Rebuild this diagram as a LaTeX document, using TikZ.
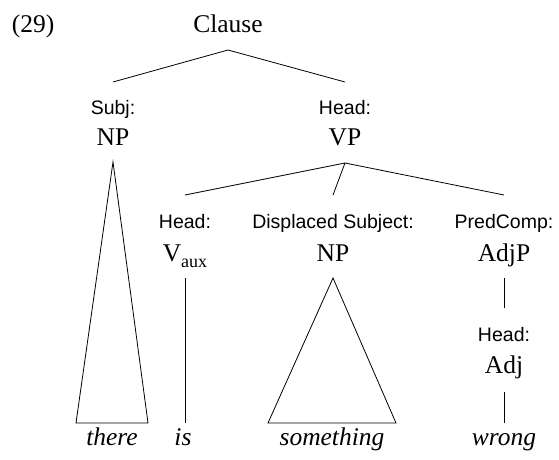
\documentclass[tikz,border=0pt]{standalone}
\usepackage{fontspec}
\setmainfont{Liberation Serif}
\setsansfont{Liberation Sans}
\begin{document}
\begin{tikzpicture}[x=1pt,y=-1pt,
  cat/.style={anchor=base,inner sep=0pt,font=\fontsize{25.5}{28}\selectfont},
  fn/.style={anchor=base,inner sep=0pt,font=\sffamily\fontsize{19.5}{22}\selectfont},
  word/.style={anchor=base,inner sep=0pt,font=\itshape\fontsize{25.5}{28}\selectfont},
  branch/.style={line width=0.8pt,line join=miter}]
\useasboundingbox (0,0) rectangle (559,460);

% example number and root
\node[cat] (num) at (33,33) {(29)};
\node[cat] (clause) at (228,33) {Clause};

% first level
\node[fn]  (subjfn) at (113,114) {Subj:};
\node[cat] (np1)    at (113,145) {NP};
\node[fn]  (headfn) at (345,114) {Head:};
\node[cat] (vp)     at (345,145) {VP};

% second level
\node[fn]  (vauxfn) at (185,228) {Head:};
\node[cat] (vaux)   at (185,261) {V{\raisebox{-6pt}{\fontsize{18}{20}\selectfont aux}}};
\node[fn]  (dsfn)   at (333,228) {Displaced Subject:};
\node[cat] (np2)    at (333,261) {NP};
\node[fn]  (pcfn)   at (504,228) {PredComp:};
\node[cat] (adjp)   at (504,261) {AdjP};

% third level
\node[fn]  (adjfn)  at (504,341) {Head:};
\node[cat] (adj)    at (504,373) {Adj};

% words
\node[word] (there)     at (112,445) {there};
\node[word] (is)        at (183,445) {is};
\node[word] (something) at (332,445) {something};
\node[word] (wrong)     at (504,445) {wrong};

% attachment points of the branches
\coordinate (clause-foot) at (228,50);
\coordinate (subj-top)    at (113,82);
\coordinate (head-top)    at (345,82);
\coordinate (vp-foot)     at (345,163);
\coordinate (vaux-top)    at (185,195);
\coordinate (ds-top)      at (333,195);
\coordinate (pc-top)      at (504,195);
\coordinate (np1-apex)    at (113,162);
\coordinate (np1-bl)      at (76,423);
\coordinate (np1-br)      at (148,423);
\coordinate (vaux-foot)   at (185,278);
\coordinate (is-top)      at (185,423);
\coordinate (np2-apex)    at (333,278);
\coordinate (np2-bl)      at (268,423);
\coordinate (np2-br)      at (396,423);
\coordinate (adjp-foot)   at (504,278);
\coordinate (adj-top)     at (504,308);
\coordinate (adj-foot)    at (504,392);
\coordinate (wrong-top)   at (504,423);

% branches
\draw[branch] (subj-top) -- (clause-foot) -- (head-top);
\draw[branch] (vaux-top) -- (vp-foot) -- (pc-top);
\draw[branch] (vp-foot) -- (ds-top);
\draw[branch] (np1-apex) -- (np1-bl) -- (np1-br) -- cycle;
\draw[branch] (vaux-foot) -- (is-top);
\draw[branch] (np2-apex) -- (np2-bl) -- (np2-br) -- cycle;
\draw[branch] (adjp-foot) -- (adj-top);
\draw[branch] (adj-foot) -- (wrong-top);
\end{tikzpicture}
\end{document}
